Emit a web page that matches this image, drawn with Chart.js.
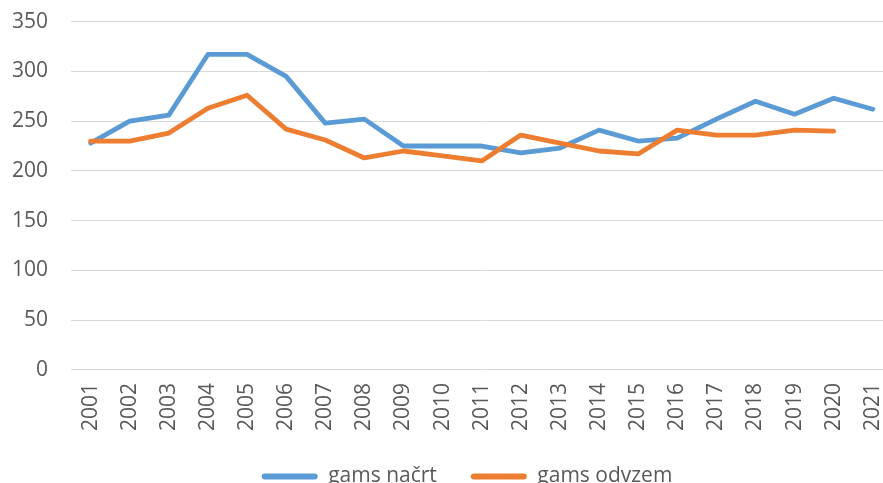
<!DOCTYPE html>
<html>
<head>
<meta charset="utf-8">
<script src="https://cdn.jsdelivr.net/npm/chart.js@4/dist/chart.umd.min.js"></script>
<style>
  html, body { margin: 0; padding: 0; background: #fff; overflow: hidden; }
  #wrap { position: absolute; left: -22px; top: -14px; width: 933px; height: 523px; }
</style>
</head>
<body>
<div id="wrap"><canvas id="chart" width="933" height="523"></canvas></div>
<script>
// Data
const years = ['2001', '2002', '2003', '2004', '2005', '2006', '2007', '2008', '2009', '2010', '2011',
  '2012', '2013', '2014', '2015', '2016', '2017', '2018', '2019', '2020', '2021'];
const nacrt = [228, 250, 256, 317, 317, 295, 248, 252, 225, 225, 225,
  218, 223, 241, 230, 233, 252, 270, 257, 273, 262];
const odvzem = [230, 230, 238, 263, 276, 242, 231, 213, 220, 215, 210,
  236, 228, 220, 217, 241, 236, 236, 241, 240, null];
const yTicks = [0, 50, 100, 150, 200, 250, 300, 350];

const textColor = '#595959';
const fontFamily = "'Open Sans', sans-serif";

// move the legend a bit, like in the original
const legendShift = {
  id: 'legendShift',
  afterLayout(chart) {
    const lg = chart.legend;
    lg.left += 17;
    lg.right += 17;
    lg.top -= 12;
    lg.bottom -= 12;
  }
};

const ctx = document.getElementById('chart').getContext('2d');

new Chart(ctx, {
  type: 'line',
  data: {
    labels: years,
    datasets: [
      {
        label: 'gams načrt',
        data: nacrt,
        borderColor: '#5B9BD5',
        backgroundColor: '#5B9BD5',
        borderWidth: 4.8,
        pointRadius: 0,
        tension: 0,
        borderCapStyle: 'round',
        borderJoinStyle: 'round',
        order: 1
      },
      {
        label: 'gams odvzem',
        data: odvzem,
        borderColor: '#ED7D31',
        backgroundColor: '#ED7D31',
        borderWidth: 4.8,
        pointRadius: 0,
        tension: 0,
        borderCapStyle: 'round',
        borderJoinStyle: 'round',
        order: 0
      }
    ]
  },
  plugins: [legendShift],
  options: {
    responsive: false,
    animation: false,
    devicePixelRatio: 1,
    layout: { padding: { left: 11, right: 0, top: 0, bottom: 0 } },
    plugins: {
      tooltip: { enabled: false },
      legend: {
        position: 'bottom',
        labels: {
          color: textColor,
          font: { family: fontFamily, size: 21 },
          boxWidth: 56,
          boxHeight: 6,
          padding: 34,
          useBorderRadius: true,
          sort: (a, b) => a.datasetIndex - b.datasetIndex,
          generateLabels: (chart) => {
            const items = Chart.defaults.plugins.legend.labels.generateLabels(chart);
            return items.map(it => Object.assign(it, { lineWidth: 0, borderRadius: 3 }));
          }
        }
      }
    },
    scales: {
      x: {
        offset: true,
        grid: { display: false, drawTicks: false },
        border: { display: false },
        ticks: {
          color: textColor,
          font: { family: fontFamily, size: 21 },
          minRotation: 90,
          maxRotation: 90,
          padding: 13,
          autoSkip: false
        }
      },
      y: {
        min: 0,
        max: 350,
        afterBuildTicks: (axis) => { axis.ticks = yTicks.map(v => ({ value: v })); },
        grid: { color: '#D9D9D9', lineWidth: 1, drawTicks: false },
        border: { display: false },
        ticks: {
          color: textColor,
          font: { family: fontFamily, size: 21 },
          padding: 23
        }
      }
    }
  }
});
</script>
</body>
</html>
